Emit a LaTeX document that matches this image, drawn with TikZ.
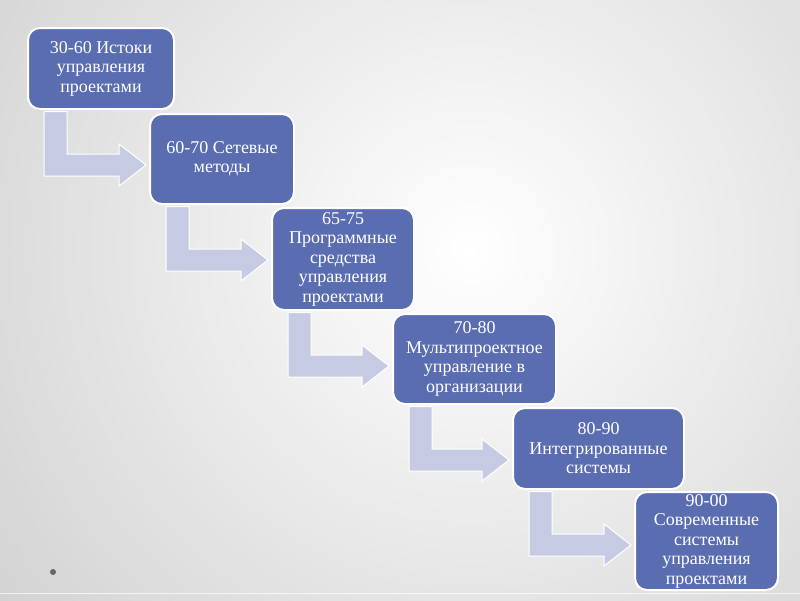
\documentclass[tikz,border=0pt]{standalone}
\usepackage{fontspec}
\setmainfont{Liberation Serif}
\usetikzlibrary{calc}
\definecolor{boxblue}{HTML}{5A6DB0}
\definecolor{arrowlav}{HTML}{C6CBE3}
\definecolor{slidegray}{HTML}{B4B4B4}
\tikzset{
  stage/.style={draw=white, line width=2pt, fill=boxblue, rounded corners=12pt,
    text=white, align=center, inner sep=2pt, font=\fontsize{18}{19.5}\selectfont},
  bent/.style={draw=white, line width=1pt, fill=arrowlav, line join=miter}
}
\begin{document}
\begin{tikzpicture}[x=1pt,y=-1pt]
\useasboundingbox (0,0) rectangle (800,600);
\begin{scope}
\clip (0,0) rectangle (800,600);
\shade[inner color=white, outer color=slidegray] (470,250) circle (1000);
\end{scope}
\draw[white, line width=1pt, opacity=.7] (0,593) -- (800,593);
\fill[black!60] (53,572) circle (3);

\node[stage, minimum width=146, minimum height=81] (b1) at (101,68.5) {30-60 Истоки\\управления\\проектами};
\node[stage, minimum width=144, minimum height=90] (b2) at (222,159) {60-70 Сетевые\\методы};
\node[stage, minimum width=142, minimum height=102] (b3) at (343,259) {65-75\\Программные\\средства\\управления\\проектами};
\node[stage, minimum width=163, minimum height=90] (b4) at (474.5,359) {70-80\\Мультипроектное\\управление в\\организации};
\node[stage, minimum width=171, minimum height=81] (b5) at (598.5,448.5) {80-90\\Интегрированные\\системы};
\node[stage, minimum width=143, minimum height=98] (b6) at (706.5,541) {90-00\\Современные\\системы\\управления\\проектами};

\foreach \i/\j in {1/2,2/3,3/4,4/5,5/6}{
  \coordinate (st) at ($(b\i.south west)+(17,1.5)$);
  \coordinate (bt) at ($(b\i.south)+(0,44)$);
  \coordinate (bm) at ($(b\i.south)+(0,55)$);
  \coordinate (bb) at ($(b\i.south)+(0,66)$);
  \coordinate (hb) at ($(b\i.south)+(0,76)$);
  \coordinate (hs) at ($(b\j.west)+(-30,0)$);
  \coordinate (tp) at ($(b\j.west)+(-3,0)$);
  \draw[bent] (st) -- ++(23,0) |- (hs |- bt) -- ++(0,-10) -- (tp |- bm)
    -- (hs |- hb) -- (hs |- bb) -- (st |- bb) -- cycle;
}
\end{tikzpicture}
\end{document}
